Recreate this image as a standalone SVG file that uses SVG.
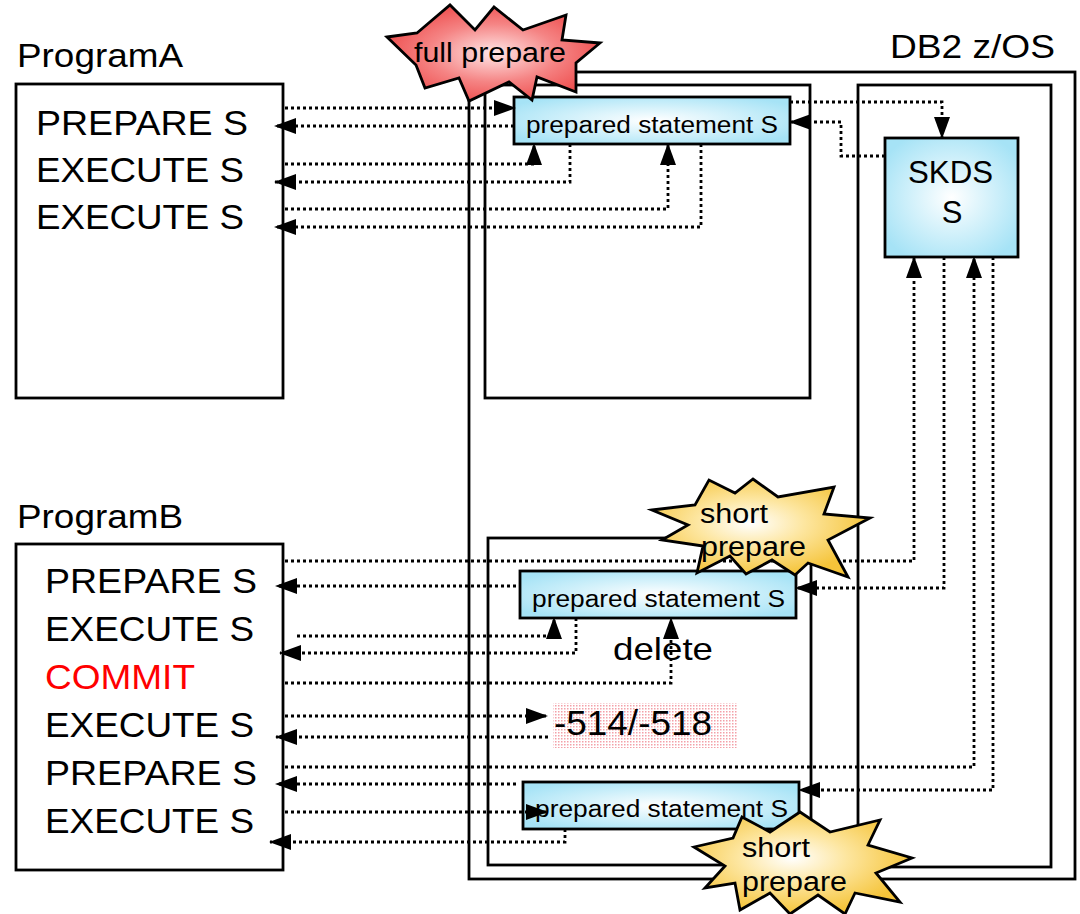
<svg xmlns="http://www.w3.org/2000/svg" width="1080" height="914" viewBox="0 0 1080 914">
<defs>
<radialGradient id="cyan" cx="50%" cy="50%" r="60%">
<stop offset="0%" stop-color="#ffffff"/>
<stop offset="100%" stop-color="#a6e3f6"/>
</radialGradient>
<radialGradient id="red" cx="50%" cy="50%" r="55%">
<stop offset="0%" stop-color="#ffe6e6"/>
<stop offset="55%" stop-color="#f58484"/>
<stop offset="100%" stop-color="#ee4b4b"/>
</radialGradient>
<radialGradient id="yellow" cx="45%" cy="45%" r="55%">
<stop offset="0%" stop-color="#ffffff"/>
<stop offset="45%" stop-color="#fde6a0"/>
<stop offset="100%" stop-color="#f5c43a"/>
</radialGradient>
<pattern id="pinkdots" width="3" height="3" patternUnits="userSpaceOnUse">
<rect width="3" height="3" fill="#ffffff"/>
<rect width="1.5" height="1.5" fill="#f3a0a8"/>
</pattern>
<marker id="ah" markerUnits="userSpaceOnUse" markerWidth="22" markerHeight="16" refX="21" refY="8" orient="auto">
<path d="M0,0 L22,8 L0,16 Z" fill="#000"/>
</marker>
</defs>
<style>
.box{fill:#fff;stroke:#000;stroke-width:2.8}
.frame{fill:none;stroke:#000;stroke-width:2.8}
.ps{fill:url(#cyan);stroke:#000;stroke-width:2.8}
.t{font-family:"Liberation Sans",Arial,sans-serif;fill:#000}
.big{font-size:35px}
.lbl{font-size:33px}
.small{font-size:23px}
.star{font-size:27px}
.conn path{fill:none;stroke:#000;stroke-width:2.8;stroke-dasharray:3 3}
.arr{marker-end:url(#ah)}
.st{stroke:#000;stroke-width:2.8;stroke-linejoin:miter}
</style>

<g id="db2">
<rect class="frame" x="469" y="72" width="606" height="807"/>
<text class="t lbl" x="890" y="58" textLength="165" lengthAdjust="spacingAndGlyphs">DB2 z/OS</text>
</g>
<g id="poolA">
<rect class="frame" x="485" y="85" width="325" height="313"/>
</g>
<g id="poolB">
<rect class="frame" x="488" y="538" width="323" height="327"/>
</g>
<g id="edm">
<rect class="frame" x="858" y="85" width="193" height="782"/>
</g>

<g id="programA">
<text class="t lbl" x="17" y="67" textLength="166" lengthAdjust="spacingAndGlyphs">ProgramA</text>
<rect class="box" x="16" y="84" width="267" height="314"/>
<text class="t big" x="36" y="135" textLength="212" lengthAdjust="spacingAndGlyphs">PREPARE S</text>
<text class="t big" x="36" y="182" textLength="208" lengthAdjust="spacingAndGlyphs">EXECUTE S</text>
<text class="t big" x="36" y="229" textLength="208" lengthAdjust="spacingAndGlyphs">EXECUTE S</text>
</g>

<g id="programB">
<text class="t lbl" x="17" y="528" textLength="166" lengthAdjust="spacingAndGlyphs">ProgramB</text>
<rect class="box" x="16" y="544" width="267" height="326"/>
<text class="t big" x="45" y="593" textLength="212" lengthAdjust="spacingAndGlyphs">PREPARE S</text>
<text class="t big" x="45" y="641" textLength="209" lengthAdjust="spacingAndGlyphs">EXECUTE S</text>
<text class="t big" x="45" y="689" textLength="150" lengthAdjust="spacingAndGlyphs" style="fill:#ff0000">COMMIT</text>
<text class="t big" x="45" y="737" textLength="209" lengthAdjust="spacingAndGlyphs">EXECUTE S</text>
<text class="t big" x="45" y="785" textLength="212" lengthAdjust="spacingAndGlyphs">PREPARE S</text>
<text class="t big" x="45" y="833" textLength="209" lengthAdjust="spacingAndGlyphs">EXECUTE S</text>
</g>

<g id="psA">
<rect class="ps" x="514" y="97" width="276" height="47"/>
<text class="t small" x="526" y="133" textLength="252" lengthAdjust="spacingAndGlyphs">prepared statement S</text>
</g>
<g id="skds">
<rect class="ps" x="885" y="138" width="133" height="119"/>
<text class="t" x="908" y="183" font-size="31" textLength="85" lengthAdjust="spacingAndGlyphs">SKDS</text>
<text class="t" x="952" y="223" font-size="31" text-anchor="middle">S</text>
</g>
<g id="psB1">
<rect class="ps" x="520" y="571" width="276" height="47"/>
<text class="t small" x="532" y="607" textLength="253" lengthAdjust="spacingAndGlyphs">prepared statement S</text>
</g>
<g id="delete">
<text class="t" x="613" y="660" font-size="32" textLength="100" lengthAdjust="spacingAndGlyphs">delete</text>
</g>
<g id="sqlcode">
<rect x="553" y="703" width="184" height="45" fill="url(#pinkdots)"/>
<text class="t big" x="554" y="735" textLength="158" lengthAdjust="spacingAndGlyphs">-514/-518</text>
</g>
<g id="psB2">
<rect class="ps" x="523" y="782" width="276" height="47"/>
<text class="t small" x="535" y="817" textLength="253" lengthAdjust="spacingAndGlyphs">prepared statement S</text>
</g>

<g id="connectors" class="conn">
<path class="arr" d="M285,108 H515"/>
<path class="arr" d="M514,126 H275"/>
<path class="arr" d="M285,164 H534 V144"/>
<path class="arr" d="M570,144 V182 H275"/>
<path class="arr" d="M285,209 H668 V144"/>
<path class="arr" d="M701,144 V227 H275"/>
<path class="arr" d="M790,102 H942 V138"/>
<path class="arr" d="M885,156 H841 V122 H790"/>
<path class="arr" d="M285,561 H914 V257"/>
<path class="arr" d="M944,257 V588 H796"/>
<path class="arr" d="M516,586 H276"/>
<path class="arr" d="M297,636 H554 V618"/>
<path class="arr" d="M576,618 V653 H280"/>
<path class="arr" d="M285,683 H671 V618"/>
<path class="arr" d="M285,716 H547"/>
<path class="arr" d="M548,737 H276"/>
<path class="arr" d="M285,767 H974 V257"/>
<path class="arr" d="M993,257 V790 H799"/>
<path class="arr" d="M516,784 H276"/>
<path class="arr" d="M285,812 H547"/>
<path class="arr" d="M565,829 V842 H270"/>
</g>

<g id="fullPrepare">
<polygon class="st" points="387,37 417,33 450,5 475,30 494,7 523,30 566,15 562,40 600,43 576,63 576,92 537,77 532,100 509,82 469,101 459,78 425,88 416,65" fill="url(#red)"/>
<text class="t star" x="414" y="62" textLength="152" lengthAdjust="spacingAndGlyphs">full prepare</text>
</g>
<g id="shortPrepare1">
<polygon class="st" points="652,510 695,505 709,480 735,493 753,479 778,497 834,487 824,514 870,518 828,540 848,577 808,563 795,575 772,560 746,574 730,556 697,573 703,546 662,540 688,525" fill="url(#yellow)"/>
<text class="t star" x="700" y="523" textLength="68" lengthAdjust="spacingAndGlyphs">short</text>
<text class="t star" x="701" y="556" textLength="105" lengthAdjust="spacingAndGlyphs">prepare</text>
</g>
<g id="shortPrepare2">
<polygon class="st" points="694,847 733,838 742,817 770,832 800,812 830,832 880,820 868,845 912,858 876,873 900,902 855,893 845,914 818,895 790,914 770,893 740,910 735,883 705,888 725,866" fill="url(#yellow)"/>
<text class="t star" x="742" y="857" textLength="68" lengthAdjust="spacingAndGlyphs">short</text>
<text class="t star" x="742" y="891" textLength="105" lengthAdjust="spacingAndGlyphs">prepare</text>
</g>
</svg>
